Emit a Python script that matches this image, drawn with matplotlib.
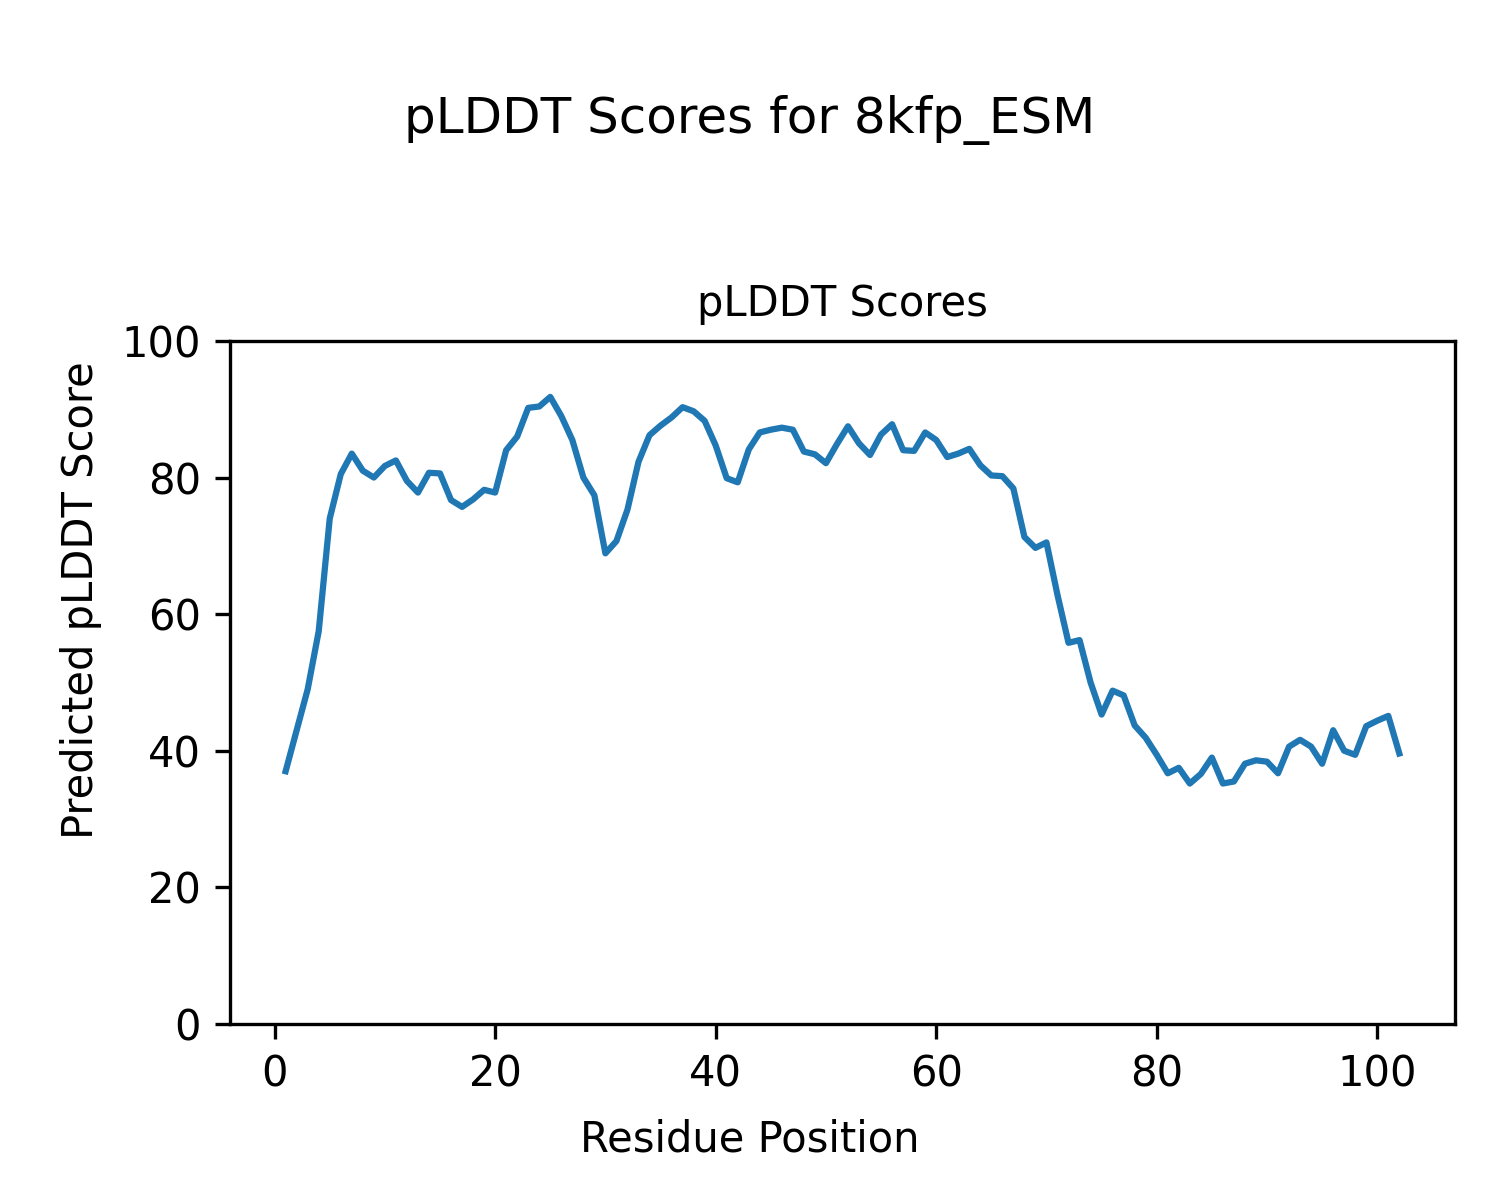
import matplotlib
matplotlib.use("Agg")
import matplotlib.pyplot as plt

residues = list(range(1, 103))
plddt = [
    37.0, 43.0, 49.0, 57.5, 74.0, 80.5, 83.5, 81.0, 80.0, 81.7,
    82.5, 79.5, 77.8, 80.7, 80.6, 76.7, 75.7, 76.8, 78.2, 77.8,
    84.0, 86.0, 90.2, 90.4, 91.8, 89.0, 85.5, 80.0, 77.4, 68.9,
    70.7, 75.3, 82.3, 86.2, 87.6, 88.8, 90.3, 89.7, 88.3, 84.7,
    79.9, 79.3, 84.1, 86.6, 87.0, 87.3, 87.0, 83.8, 83.4, 82.1,
    84.9, 87.5, 85.0, 83.3, 86.3, 87.8, 84.0, 83.9, 86.6, 85.5,
    83.0, 83.5, 84.2, 81.8, 80.3, 80.2, 78.4, 71.3, 69.7, 70.5,
    62.8, 55.8, 56.2, 50.0, 45.3, 48.8, 48.1, 43.7, 41.9, 39.4,
    36.7, 37.5, 35.2, 36.6, 39.0, 35.2, 35.5, 38.1, 38.6, 38.4,
    36.7, 40.6, 41.6, 40.6, 38.1, 43.0, 40.0, 39.4, 43.6, 44.4,
    45.1, 39.6,
]

fig = plt.figure(figsize=(5, 4), dpi=300)
ax = fig.add_axes([0.1533, 0.1467, 0.8167, 0.5692])
ax.plot(residues, plddt)
ax.set_ylim(0, 100)
ax.set_title("pLDDT Scores", fontsize=10)

fig.suptitle("pLDDT Scores for 8kfp_ESM", y=0.921)
fig.supxlabel("Residue Position", fontsize=10, y=0.033)
fig.supylabel("Predicted pLDDT Score", fontsize=10, x=0.04)

plt.savefig("out.png")
